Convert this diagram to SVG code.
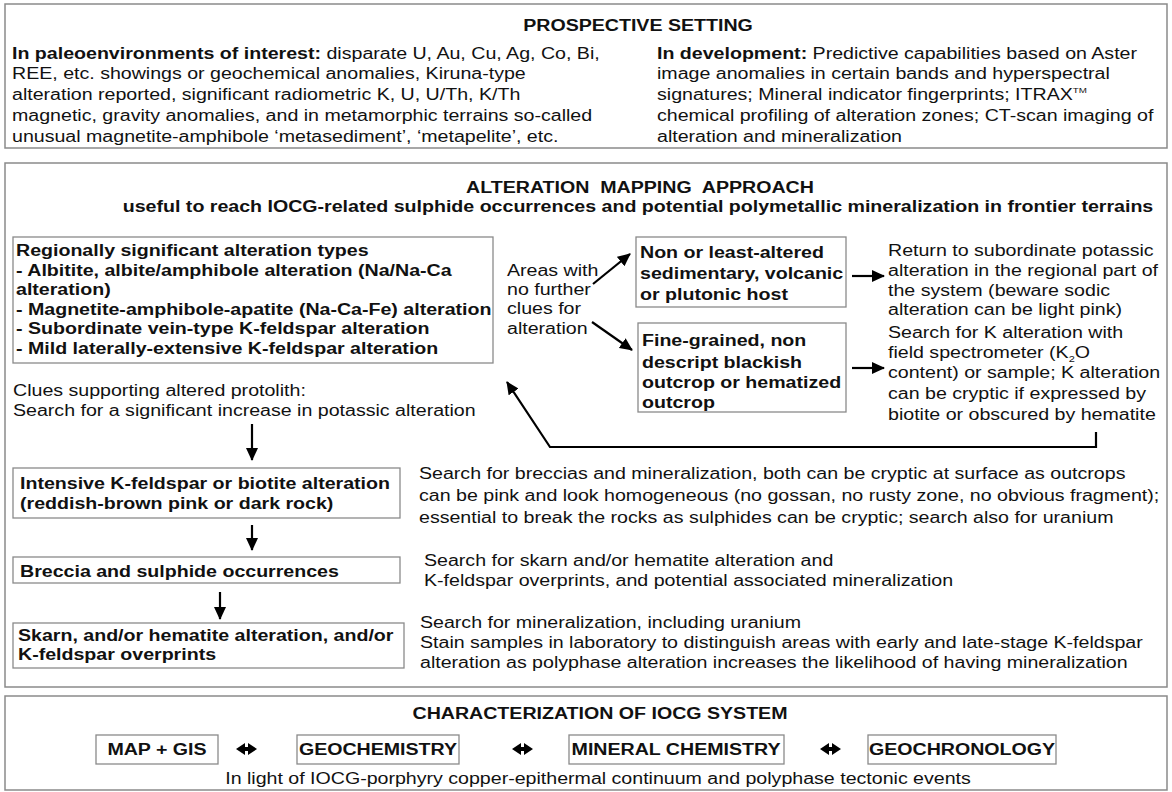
<svg xmlns="http://www.w3.org/2000/svg" width="1172" height="792" viewBox="0 0 1172 792">
<defs>
<style>
text{font-family:"Liberation Sans",Arial,sans-serif;fill:#111;font-size:16px;}
.b{font-weight:bold;}
.h{font-weight:bold;}
.bx{fill:#fff;stroke:#8a8a8a;stroke-width:1.3;}
.sec{fill:#fff;stroke:#8a8a8a;stroke-width:1.5;}
.ar{fill:none;stroke:#000;stroke-width:2.2;marker-end:url(#ah);}
</style>
<marker id="ah" markerUnits="userSpaceOnUse" markerWidth="14" markerHeight="12" refX="12" refY="6" orient="auto">
<path d="M0,0 L13,6 L0,12 z" fill="#000"/>
</marker>
</defs>
<rect width="1172" height="792" fill="#fff"/>

<g id="prospective">
<rect class="sec" x="5" y="4" width="1162" height="144"/>
<text class="h" transform="matrix(1.225,0,0,1,638,0)" y="31" text-anchor="middle">PROSPECTIVE SETTING</text>
<text transform="matrix(1.225,0,0,1,12,0)" y="59"><tspan class="b">In paleoenvironments of interest:</tspan> disparate U, Au, Cu, Ag, Co, Bi,</text>
<text transform="matrix(1.225,0,0,1,12,0)" y="79">REE, etc. showings or geochemical anomalies, Kiruna-type</text>
<text transform="matrix(1.225,0,0,1,12,0)" y="100">alteration reported, significant radiometric K, U, U/Th, K/Th</text>
<text transform="matrix(1.225,0,0,1,12,0)" y="121">magnetic, gravity anomalies, and in metamorphic terrains so-called</text>
<text transform="matrix(1.225,0,0,1,12,0)" y="142">unusual magnetite-amphibole ‘metasediment’, ‘metapelite’, etc.</text>
<text transform="matrix(1.225,0,0,1,657,0)" y="59"><tspan class="b">In development:</tspan> Predictive capabilities based on Aster</text>
<text transform="matrix(1.225,0,0,1,657,0)" y="79">image anomalies in certain bands and hyperspectral</text>
<text transform="matrix(1.225,0,0,1,657,0)" y="100">signatures; Mineral indicator fingerprints; ITRAX<tspan font-size="8" dy="-7">TM</tspan></text>
<text transform="matrix(1.225,0,0,1,657,0)" y="121">chemical profiling of alteration zones; CT-scan imaging of</text>
<text transform="matrix(1.225,0,0,1,657,0)" y="142">alteration and mineralization</text>
</g>

<g id="alteration">
<rect class="sec" x="5" y="163" width="1162" height="524"/>
<text class="h" transform="matrix(1.225,0,0,1,640,0)" y="193" text-anchor="middle" xml:space="preserve">ALTERATION  MAPPING  APPROACH</text>
<text class="h" transform="matrix(1.225,0,0,1,638,0)" y="212" text-anchor="middle">useful to reach IOCG-related sulphide occurrences and potential polymetallic mineralization in frontier terrains</text>
</g>

<g id="regional">
<rect class="bx" x="13" y="237" width="480" height="126"/>
<text class="h" transform="matrix(1.225,0,0,1,16,0)" y="256">Regionally significant alteration types</text>
<text class="h" transform="matrix(1.225,0,0,1,16,0)" y="276">- Albitite, albite/amphibole alteration (Na/Na-Ca</text>
<text class="h" transform="matrix(1.225,0,0,1,16,0)" y="295">alteration)</text>
<text class="h" transform="matrix(1.225,0,0,1,16,0)" y="315">- Magnetite-amphibole-apatite (Na-Ca-Fe) alteration</text>
<text class="h" transform="matrix(1.225,0,0,1,16,0)" y="334">- Subordinate vein-type K-feldspar alteration</text>
<text class="h" transform="matrix(1.225,0,0,1,16,0)" y="354">- Mild laterally-extensive K-feldspar alteration</text>
</g>

<g id="areas">
<text transform="matrix(1.225,0,0,1,507,0)" y="276">Areas with</text>
<text transform="matrix(1.225,0,0,1,507,0)" y="295">no further</text>
<text transform="matrix(1.225,0,0,1,507,0)" y="314">clues for</text>
<text transform="matrix(1.225,0,0,1,507,0)" y="334">alteration</text>
</g>

<g id="nonaltered">
<rect class="bx" x="636" y="237" width="210" height="70"/>
<text class="h" transform="matrix(1.225,0,0,1,640,0)" y="258">Non or least-altered</text>
<text class="h" transform="matrix(1.225,0,0,1,640,0)" y="279">sedimentary, volcanic</text>
<text class="h" transform="matrix(1.225,0,0,1,640,0)" y="300">or plutonic host</text>
</g>

<g id="return-text">
<text transform="matrix(1.225,0,0,1,888,0)" y="256">Return to subordinate potassic</text>
<text transform="matrix(1.225,0,0,1,888,0)" y="276">alteration in the regional part of</text>
<text transform="matrix(1.225,0,0,1,888,0)" y="296">the system (beware sodic</text>
<text transform="matrix(1.225,0,0,1,888,0)" y="315">alteration can be light pink)</text>
</g>

<g id="finegrained">
<rect class="bx" x="638" y="323" width="208" height="89"/>
<text class="h" transform="matrix(1.225,0,0,1,642,0)" y="346">Fine-grained, non</text>
<text class="h" transform="matrix(1.225,0,0,1,642,0)" y="368">descript blackish</text>
<text class="h" transform="matrix(1.225,0,0,1,642,0)" y="388">outcrop or hematized</text>
<text class="h" transform="matrix(1.225,0,0,1,642,0)" y="408">outcrop</text>
</g>

<g id="search-k">
<text transform="matrix(1.225,0,0,1,888,0)" y="338">Search for K alteration with</text>
<text transform="matrix(1.225,0,0,1,888,0)" y="358">field spectrometer (K<tspan font-size="9" dy="4">2</tspan><tspan dy="-4">O</tspan></text>
<text transform="matrix(1.225,0,0,1,888,0)" y="378">content) or sample; K alteration</text>
<text transform="matrix(1.225,0,0,1,888,0)" y="399">can be cryptic if expressed by</text>
<text transform="matrix(1.225,0,0,1,888,0)" y="420">biotite or obscured by hematite</text>
</g>

<g id="clues">
<text transform="matrix(1.225,0,0,1,13,0)" y="396">Clues supporting altered protolith:</text>
<text transform="matrix(1.225,0,0,1,13,0)" y="416">Search for a significant increase in potassic alteration</text>
</g>

<g id="intensive">
<rect class="bx" x="13" y="468" width="387" height="50"/>
<text class="h" transform="matrix(1.225,0,0,1,20,0)" y="489">Intensive K-feldspar or biotite alteration</text>
<text class="h" transform="matrix(1.225,0,0,1,20,0)" y="509">(reddish-brown pink or dark rock)</text>
</g>
<g id="breccia-text">
<text transform="matrix(1.225,0,0,1,419,0)" y="479">Search for breccias and mineralization, both can be cryptic at surface as outcrops</text>
<text transform="matrix(1.225,0,0,1,419,0)" y="501">can be pink and look homogeneous (no gossan, no rusty zone, no obvious fragment);</text>
<text transform="matrix(1.225,0,0,1,419,0)" y="523">essential to break the rocks as sulphides can be cryptic; search also for uranium</text>
</g>

<g id="breccia">
<rect class="bx" x="13" y="557" width="387" height="26"/>
<text class="h" transform="matrix(1.225,0,0,1,20,0)" y="577">Breccia and sulphide occurrences</text>
</g>
<g id="skarn-text">
<text transform="matrix(1.225,0,0,1,424,0)" y="566">Search for skarn and/or hematite alteration and</text>
<text transform="matrix(1.225,0,0,1,424,0)" y="586">K-feldspar overprints, and potential associated mineralization</text>
</g>

<g id="skarn">
<rect class="bx" x="13" y="623" width="391" height="45"/>
<text class="h" transform="matrix(1.225,0,0,1,18,0)" y="641">Skarn, and/or hematite alteration, and/or</text>
<text class="h" transform="matrix(1.225,0,0,1,18,0)" y="660">K-feldspar overprints</text>
</g>
<g id="mineral-text">
<text transform="matrix(1.225,0,0,1,420,0)" y="628">Search for mineralization, including uranium</text>
<text transform="matrix(1.225,0,0,1,420,0)" y="648">Stain samples in laboratory to distinguish areas with early and late-stage K-feldspar</text>
<text transform="matrix(1.225,0,0,1,420,0)" y="668">alteration as polyphase alteration increases the likelihood of having mineralization</text>
</g>

<g id="characterization">
<rect class="sec" x="5" y="696" width="1162" height="94"/>
<text class="h" transform="matrix(1.225,0,0,1,600,0)" y="719" text-anchor="middle">CHARACTERIZATION OF IOCG SYSTEM</text>
<text transform="matrix(1.225,0,0,1,598,0)" y="784" text-anchor="middle">In light of IOCG-porphyry copper-epithermal continuum and polyphase tectonic events</text>
</g>
<g id="mapgis">
<rect class="bx" x="96" y="735" width="122" height="29"/>
<text class="h" transform="matrix(1.225,0,0,1,157,0)" y="755" text-anchor="middle" font-size="15">MAP + GIS</text>
</g>
<g id="geochemistry">
<rect class="bx" x="297" y="735" width="162" height="29"/>
<text class="h" transform="matrix(1.225,0,0,1,378,0)" y="755" text-anchor="middle" font-size="15">GEOCHEMISTRY</text>
</g>
<g id="mineralchem">
<rect class="bx" x="569" y="735" width="215" height="29"/>
<text class="h" transform="matrix(1.225,0,0,1,676,0)" y="755" text-anchor="middle" font-size="15">MINERAL CHEMISTRY</text>
</g>
<g id="geochron">
<rect class="bx" x="868" y="735" width="188" height="29"/>
<text class="h" transform="matrix(1.225,0,0,1,962,0)" y="755" text-anchor="middle" font-size="15">GEOCHRONOLOGY</text>
</g>

<g id="connectors">
<line class="ar" x1="593" y1="284" x2="630" y2="254"/>
<line class="ar" x1="592" y1="322" x2="632" y2="350"/>
<line class="ar" x1="852" y1="276" x2="884" y2="276"/>
<line class="ar" x1="852" y1="368" x2="884" y2="368"/>
<polyline class="ar" points="1096,432 1096,447 550,447 507,382"/>
<line class="ar" x1="252" y1="424" x2="252" y2="460"/>
<line class="ar" x1="252" y1="525" x2="252" y2="550"/>
<line class="ar" x1="220" y1="592" x2="220" y2="619"/>
<path d="M236,749 L245,743 L245,747 L248,747 L248,743 L257,749 L248,755 L248,751 L245,751 L245,755 z" fill="#000"/>
<path d="M512,749 L521,743 L521,747 L524,747 L524,743 L533,749 L524,755 L524,751 L521,751 L521,755 z" fill="#000"/>
<path d="M820,749 L829,743 L829,747 L832,747 L832,743 L841,749 L832,755 L832,751 L829,751 L829,755 z" fill="#000"/>
</g>
</svg>
